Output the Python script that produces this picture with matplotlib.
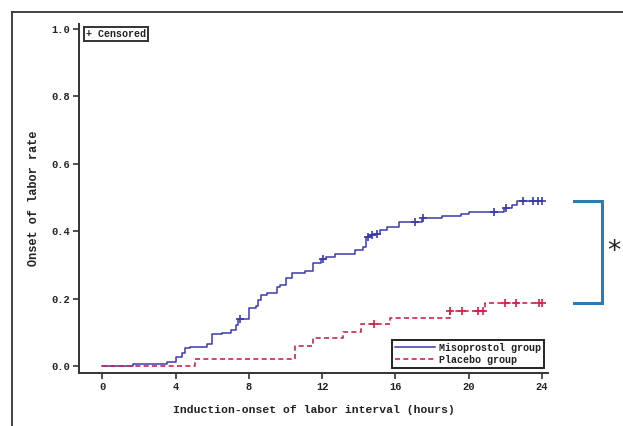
import numpy as np
import matplotlib
matplotlib.use("Agg")
import matplotlib.pyplot as plt
from matplotlib.lines import Line2D

# ---- data ----
miso_times = [0, 1.68, 3.5, 4.0, 4.36, 4.5, 4.78, 5.69, 6.0, 6.51, 7.02, 7.28, 7.42,
              8.02, 8.38, 8.51, 8.66, 8.96, 9.51, 9.69, 10.02, 10.33, 11.06, 11.51,
              11.95, 12.2, 12.69, 13.79, 14.21, 14.4, 14.6, 14.9, 15.15, 15.52, 16.2,
              17.43, 18.52, 19.6, 20.03, 21.95, 22.35, 22.62, 24.0]
miso_rates = [0, 0.006, 0.013, 0.026, 0.040, 0.052, 0.057, 0.065, 0.094, 0.099, 0.107,
              0.122, 0.138, 0.171, 0.178, 0.196, 0.211, 0.218, 0.233, 0.240, 0.260,
              0.277, 0.283, 0.307, 0.317, 0.322, 0.331, 0.344, 0.354, 0.384, 0.388,
              0.392, 0.405, 0.413, 0.426, 0.438, 0.446, 0.451, 0.458, 0.468, 0.478,
              0.489, 0.489]
miso_censored = [7.5, 12.02, 14.5, 14.7, 14.97, 17.05, 17.48, 21.38, 22.05, 22.98,
                 23.5, 23.77, 23.99]

plac_times = [0, 5.05, 10.5, 11.52, 13.15, 14.1, 15.7, 18.98, 20.89, 24.0]
plac_rates = [0, 0.020, 0.060, 0.082, 0.102, 0.124, 0.142, 0.162, 0.186, 0.186]
plac_censored = [14.83, 18.99, 19.66, 20.53, 20.8, 21.98, 22.56, 23.86, 23.99]

x_ticks = [0, 4, 8, 12, 16, 20, 24]
y_ticks = [0.0, 0.2, 0.4, 0.6, 0.8, 1.0]
series_labels = ["Misoprostol group", "Placebo group"]

BLUE = "#3a3aa8"
RED = "#c8264c"
BRACKET = "#2b7bb9"
FONT = "Liberation Mono"
W = "bold"


def step_value(times, rates, t):
    idx = np.searchsorted(times, t, side="right") - 1
    return np.asarray(rates)[idx]


fig = plt.figure(figsize=(6.23, 4.26), dpi=100)
ax = fig.add_axes([0.1276, 0.1251, 0.752, 0.8186])

ax.plot(miso_times, miso_rates, drawstyle="steps-post", color=BLUE, lw=1.1,
        label=series_labels[0])
ax.plot(plac_times, plac_rates, drawstyle="steps-post", color=RED, lw=1.2,
        dashes=(3.0, 2.0), label=series_labels[1])

mc = np.array(miso_censored)
ax.plot(mc, step_value(miso_times, miso_rates, mc), ls="none", marker="+",
        ms=6, mew=1.2, color=BLUE)
pc = np.array(plac_censored)
ax.plot(pc, step_value(plac_times, plac_rates, pc), ls="none", marker="+",
        ms=6, mew=1.2, color=RED)

ax.set_xlim(-1.256, 24.33)
ax.set_ylim(-0.0199, 1.0148)
ax.set_xticks(x_ticks)
ax.set_xticklabels([str(v) for v in x_ticks])
ax.set_yticks(y_ticks)
ax.set_yticklabels([f"{v:.1f}" for v in y_ticks])

for s in ["top", "right"]:
    ax.spines[s].set_visible(False)
for s in ["left", "bottom"]:
    ax.spines[s].set_color("#333333")
    ax.spines[s].set_linewidth(1.4)
ax.tick_params(axis="both", direction="out", length=4, width=1.2, color="#333333",
               labelsize=7.5, pad=3, labelcolor="#222222")
for lab in ax.get_xticklabels() + ax.get_yticklabels():
    lab.set_fontfamily(FONT)
    lab.set_fontweight(W)

ax.set_xlabel("Induction-onset of labor interval (hours)", fontfamily=FONT,
              fontsize=8.2, fontweight=W, color="#222222", labelpad=9)
ax.set_ylabel("Onset of labor rate", fontfamily=FONT, fontsize=8.6, fontweight=W,
              color="#222222", labelpad=8)

ax.text(0.013, 0.985, "+ Censored", transform=ax.transAxes, ha="left", va="top",
        fontfamily=FONT, fontsize=7.2, fontweight=W, color="#222222",
        bbox=dict(boxstyle="square,pad=0.2", fc="white", ec="#333333", lw=1.4))

leg = ax.legend(loc="lower right", bbox_to_anchor=(0.9915, 0.0135), borderaxespad=0,
                prop={"family": FONT, "size": 7.2, "weight": W}, handlelength=4.0,
                fancybox=False, framealpha=1, edgecolor="#222222",
                borderpad=0.3, labelspacing=0.2, handletextpad=0.4)
leg.get_frame().set_linewidth(1.4)
for t in leg.get_texts():
    t.set_color("#222222")

# significance bracket
yt = miso_rates[-1]
yb = plac_rates[-1]
ax.plot([25.75, 27.28, 27.28, 25.75], [yt, yt, yb, yb], color=BRACKET, lw=2.2,
        clip_on=False, solid_joinstyle="miter")
ax.text(27.9, (yt + yb) / 2, "*", fontsize=19, ha="center", va="center",
        color="#222222", clip_on=False)

# outer frame lines
fx = 12 / 623
fy = 1 - 12 / 426
fig.add_artist(Line2D([fx, 1], [fy, fy], transform=fig.transFigure,
                      color="#333333", lw=1.3))
fig.add_artist(Line2D([fx, fx], [0, fy], transform=fig.transFigure,
                      color="#333333", lw=1.3))

fig.savefig("out.png", dpi=100)
